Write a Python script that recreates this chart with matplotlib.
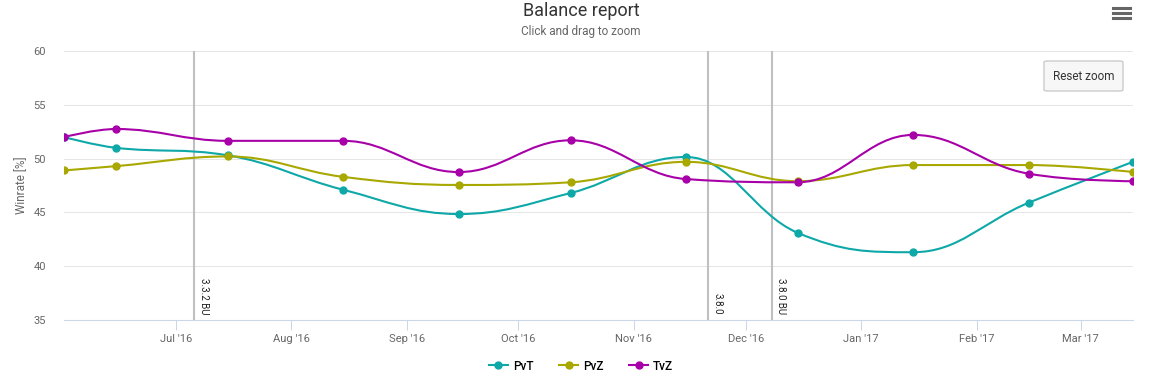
import matplotlib
matplotlib.use('Agg')
import matplotlib.pyplot as plt
import matplotlib.dates as mdates
from matplotlib.path import Path
from matplotlib.patches import PathPatch, FancyBboxPatch
from matplotlib.lines import Line2D
from datetime import date

plt.rcParams['font.family'] = ['Roboto', 'DejaVu Sans']

# data
dates = ['2016-06-01', '2016-06-15', '2016-07-15', '2016-08-15', '2016-09-15', '2016-10-15',
         '2016-11-15', '2016-12-15', '2017-01-15', '2017-02-15', '2017-03-15']
pvt = [52.0, 51.0, 50.3, 47.1, 44.85, 46.8, 50.15, 43.1, 41.3, 45.9, 49.7]
pvz = [48.9, 49.3, 50.2, 48.3, 47.55, 47.8, 49.7, 47.9, 49.4, 49.4, 48.75]
tvz = [52.0, 52.75, 51.65, 51.65, 48.75, 51.7, 48.1, 47.8, 52.2, 48.6, 47.9]

patch_dates = ['2016-07-06', '2016-11-21', '2016-12-08']
patch_labels = ['3.3.2 BU', '3.8.0', '3.8.0 BU']

month_ticks = ['2016-07-01', '2016-08-01', '2016-09-01', '2016-10-01', '2016-11-01',
               '2016-12-01', '2017-01-01', '2017-02-01', '2017-03-01']

series = [('PvT', pvt, '#0fa8a8'), ('PvZ', pvz, '#a8a800'), ('TvZ', tvz, '#a800a8')]


def to_num(ds):
    return [mdates.date2num(date.fromisoformat(d)) for d in ds]


def spline_path(xs, ys, smoothing=1.5):
    # highcharts-like spline: cubic beziers through every point
    n = len(xs)
    denom = smoothing + 1
    left = [(xs[i], ys[i]) for i in range(n)]
    right = [(xs[i], ys[i]) for i in range(n)]
    for i in range(1, n - 1):
        px, py = xs[i], ys[i]
        lx, ly = xs[i - 1], ys[i - 1]
        nx, ny = xs[i + 1], ys[i + 1]
        lcx = (smoothing * px + lx) / denom
        lcy = (smoothing * py + ly) / denom
        rcx = (smoothing * px + nx) / denom
        rcy = (smoothing * py + ny) / denom
        if rcx != lcx:
            corr = (rcy - lcy) * (rcx - px) / (rcx - lcx) + py - rcy
            lcy += corr
            rcy += corr
        if lcy > ly and lcy > py:
            lcy = max(ly, py)
            rcy = 2 * py - lcy
        elif lcy < ly and lcy < py:
            lcy = min(ly, py)
            rcy = 2 * py - lcy
        if rcy > ny and rcy > py:
            rcy = max(ny, py)
            lcy = 2 * py - rcy
        elif rcy < ny and rcy < py:
            rcy = min(ny, py)
            lcy = 2 * py - rcy
        left[i] = (lcx, lcy)
        right[i] = (rcx, rcy)
    verts = [(xs[0], ys[0])]
    codes = [Path.MOVETO]
    for i in range(1, n):
        verts += [right[i - 1], left[i], (xs[i], ys[i])]
        codes += [Path.CURVE4] * 3
    return Path(verts, codes)


fig = plt.figure(figsize=(11.62, 3.83), dpi=100)
ax = fig.add_axes([64 / 1162, 1 - 320 / 383, (1133 - 64) / 1162, (320 - 51) / 383])

x = to_num(dates)
ax.set_xlim(x[0], x[-1])
ax.set_ylim(35, 60)

ax.set_yticks([35, 40, 45, 50, 55, 60])
ax.grid(axis='y', color='#e6e6e6', linewidth=0.75)
ax.set_axisbelow(True)
for s in ['top', 'right', 'left']:
    ax.spines[s].set_visible(False)
ax.spines['bottom'].set_color('#ccd6eb')
ax.spines['bottom'].set_linewidth(0.75)
ax.tick_params(axis='y', length=0, labelsize=8, labelcolor='#666666', pad=13)
ax.set_xticks(to_num(month_ticks))
ax.xaxis.set_major_formatter(mdates.DateFormatter("%b '%y"))
ax.tick_params(axis='x', length=7, width=0.75, color='#ccd6eb', labelsize=8,
               labelcolor='#666666', pad=3)
ax.set_ylabel('Winrate [%]', fontsize=8.5, color='#666666', labelpad=4)

# patch lines
for d, lab in zip(to_num(patch_dates), patch_labels):
    ax.axvline(d, color='#c0c0c0', linewidth=1.5, zorder=1)
    ax.annotate(lab, (d, 35), xytext=(3, 4), textcoords='offset points',
                rotation=270, ha='left', va='bottom', fontsize=7, color='#222222')

for name, vals, col in series:
    ax.add_patch(PathPatch(spline_path(x, vals), facecolor='none', edgecolor=col,
                           linewidth=1.5, zorder=3))
    ax.plot(x, vals, linestyle='none', marker='o', markersize=5, color=col, zorder=4)

fig.text(0.5, 1 - 11 / 383, 'Balance report', ha='center', va='center',
         fontsize=13, color='#333333')
fig.text(0.5, 1 - 31 / 383, 'Click and drag to zoom', ha='center', va='center',
         fontsize=8.5, color='#666666')

handles = [Line2D([], [], color=c, linewidth=1.5, marker='o', markersize=5) for _, _, c in series]
fig.legend(handles, [n for n, _, _ in series], loc='center', bbox_to_anchor=(0.5, 1 - 366 / 383),
           ncol=3, frameon=False, handlelength=1.6, columnspacing=2.2,
           handletextpad=0.4, prop={'weight': 'medium', 'size': 8.5})

# reset zoom button
btn = FancyBboxPatch((1044 / 1162, 1 - 91 / 383), 79 / 1162, 30 / 383,
                     boxstyle='round,pad=0,rounding_size=0.003', transform=fig.transFigure,
                     facecolor='#f7f7f7', edgecolor='#cccccc', linewidth=1)
fig.add_artist(btn)
fig.text(1083.5 / 1162, 1 - 76 / 383, 'Reset zoom', ha='center', va='center',
         fontsize=8.5, color='#333333')

# menu icon
for yy in [8, 13, 18]:
    fig.add_artist(Line2D([1113 / 1162, 1130 / 1162], [1 - yy / 383] * 2,
                          transform=fig.transFigure, color='#666666', linewidth=2.2))

fig.savefig('out.png', dpi=100, facecolor='white')
